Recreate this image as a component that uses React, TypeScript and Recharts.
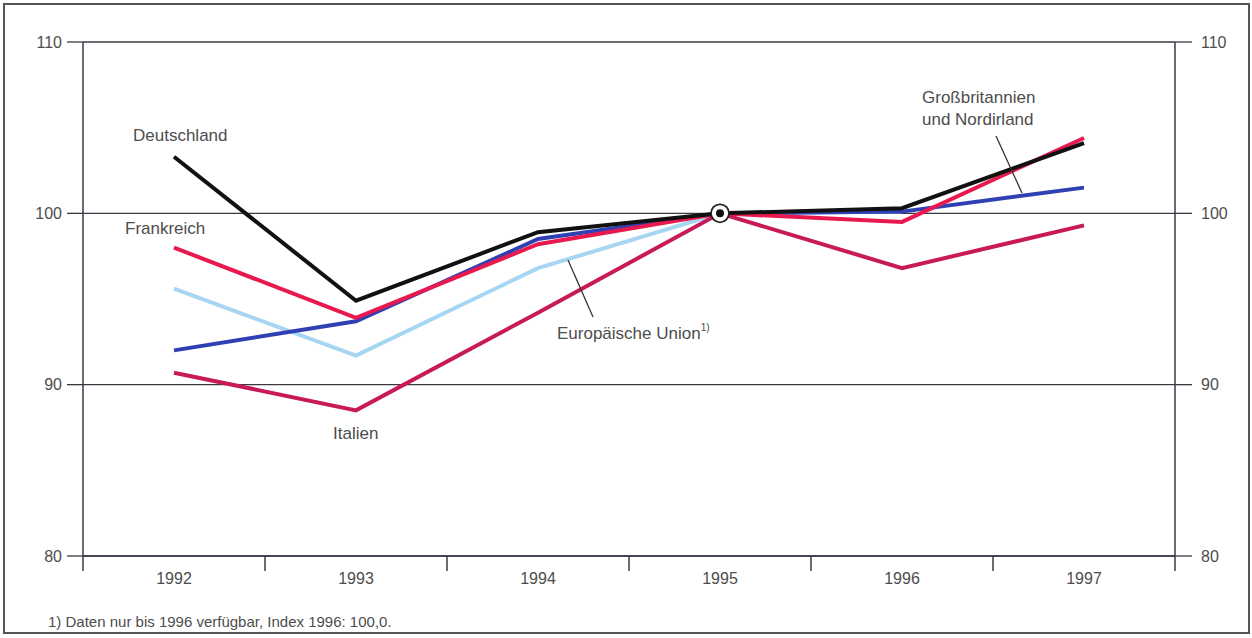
import { CartesianGrid, Line, LineChart, ReferenceDot, XAxis, YAxis } from "recharts";

const YEARS = [1992, 1993, 1994, 1995, 1996, 1997];
const DEUTSCHLAND = [103.3, 94.9, 98.9, 100, 100.3, 104.1];
const FRANKREICH = [98.0, 93.9, 98.2, 100, 99.5, 104.4];
const EU = [95.6, 91.7, 96.8, 100, 100.1, null];
const GROSSBRITANNIEN = [92.0, 93.7, 98.5, 100, 100.1, 101.5];
const ITALIEN = [90.7, 88.5, 94.2, 100, 96.8, 99.3];
const Y_TICKS = [80, 90, 100, 110];

const FONT = "'Liberation Sans', Arial, sans-serif";
const TEXT = "#4d4d4d";
const AXIS = "#3a3a44";

const data = YEARS.map((year, i) => ({
  year,
  de: DEUTSCHLAND[i],
  fr: FRANKREICH[i],
  eu: EU[i],
  gb: GROSSBRITANNIEN[i],
  it: ITALIEN[i],
}));

// tick lines sit on the category boundaries, labels in the middle of each year
const boundaries = [...YEARS.map((y) => y - 0.5), YEARS[YEARS.length - 1] + 0.5];
const HALF_BAND = 91;

function YearTick(props: any) {
  const { x, y, payload } = props;
  const value = payload.value as number;
  if (value > YEARS[YEARS.length - 1]) return null;
  return (
    <text x={x + HALF_BAND} y={y} dy="0.71em" textAnchor="middle" fontSize={16} fontFamily={FONT} fill={TEXT}>
      {value + 0.5}
    </text>
  );
}

function Marker(props: any) {
  const { cx, cy } = props;
  return (
    <g>
      <circle cx={cx} cy={cy} r={9} fill="#fff" stroke="#222" strokeWidth={1.8} />
      <circle cx={cx} cy={cy} r={4} fill="#111" />
    </g>
  );
}

const labelStyle = { fontSize: 17, fontFamily: FONT, fill: TEXT };

export default function App() {
  return (
    <div style={{ position: "absolute", left: 0, top: 0, width: 1252, height: 638, background: "#fff" }}>
      <div
        style={{
          position: "absolute",
          left: 3,
          top: 3,
          width: 1243,
          height: 627,
          border: "2px solid #55555c",
        }}
      />
      <LineChart width={1252} height={638} data={data} margin={{ top: 42, right: 0, bottom: 0, left: 0 }}>
        <CartesianGrid vertical={false} stroke={AXIS} strokeWidth={1.3} yAxisId="left" />
        <XAxis
          dataKey="year"
          type="number"
          domain={[boundaries[0], boundaries[boundaries.length - 1]]}
          ticks={boundaries}
          allowDataOverflow
          height={82}
          tickSize={15}
          tickMargin={2}
          stroke={AXIS}
          axisLine={{ stroke: AXIS, strokeWidth: 1.5 }}
          tickLine={{ stroke: AXIS, strokeWidth: 1.5 }}
          tick={<YearTick />}
          interval={0}
        />
        <YAxis
          yAxisId="left"
          domain={[80, 110]}
          ticks={Y_TICKS}
          allowDataOverflow
          width={83}
          tickSize={16}
          tickMargin={5}
          axisLine={{ stroke: AXIS, strokeWidth: 1.5 }}
          tickLine={{ stroke: AXIS, strokeWidth: 1.3 }}
          tick={{ fontSize: 16, fontFamily: FONT, fill: TEXT }}
        />
        <YAxis
          yAxisId="right"
          orientation="right"
          domain={[80, 110]}
          ticks={Y_TICKS}
          allowDataOverflow
          width={77}
          tickSize={17}
          tickMargin={9}
          axisLine={{ stroke: AXIS, strokeWidth: 1.5 }}
          tickLine={{ stroke: AXIS, strokeWidth: 1.3 }}
          tick={{ fontSize: 16, fontFamily: FONT, fill: TEXT, textAnchor: "start" }}
        />
        <Line yAxisId="left" dataKey="eu" stroke="#a6d6f2" strokeWidth={4} dot={false} activeDot={false} isAnimationActive={false} />
        <Line yAxisId="left" dataKey="it" stroke="#c81a58" strokeWidth={4} dot={false} activeDot={false} isAnimationActive={false} />
        <Line yAxisId="left" dataKey="gb" stroke="#2f40b2" strokeWidth={4} dot={false} activeDot={false} isAnimationActive={false} />
        <Line yAxisId="left" dataKey="fr" stroke="#e8194f" strokeWidth={4} dot={false} activeDot={false} isAnimationActive={false} />
        <Line yAxisId="left" dataKey="de" stroke="#111111" strokeWidth={4} dot={false} activeDot={false} isAnimationActive={false} />
        <ReferenceDot yAxisId="left" x={1995} y={100} shape={<Marker />} />
      </LineChart>
      <svg width={1252} height={638} style={{ position: "absolute", left: 0, top: 0, pointerEvents: "none" }}>
        <text x={133} y={141} {...labelStyle}>Deutschland</text>
        <text x={125} y={234} {...labelStyle}>Frankreich</text>
        <text x={333} y={439} {...labelStyle}>Italien</text>
        <text x={557} y={339} {...labelStyle}>
          Europäische Union
          <tspan fontSize={10} dy={-8}>1)</tspan>
        </text>
        <line x1={568} y1={260} x2={593} y2={317} stroke="#333" strokeWidth={1.3} />
        <text x={922} y={103} {...labelStyle}>Großbritannien</text>
        <text x={922} y={125} {...labelStyle}>und Nordirland</text>
        <line x1={996} y1={136} x2={1022} y2={193} stroke="#333" strokeWidth={1.3} />
        <text x={48} y={627} fontSize={15} fontFamily={FONT} fill={TEXT}>
          1) Daten nur bis 1996 verfügbar, Index 1996: 100,0.
        </text>
      </svg>
    </div>
  );
}
